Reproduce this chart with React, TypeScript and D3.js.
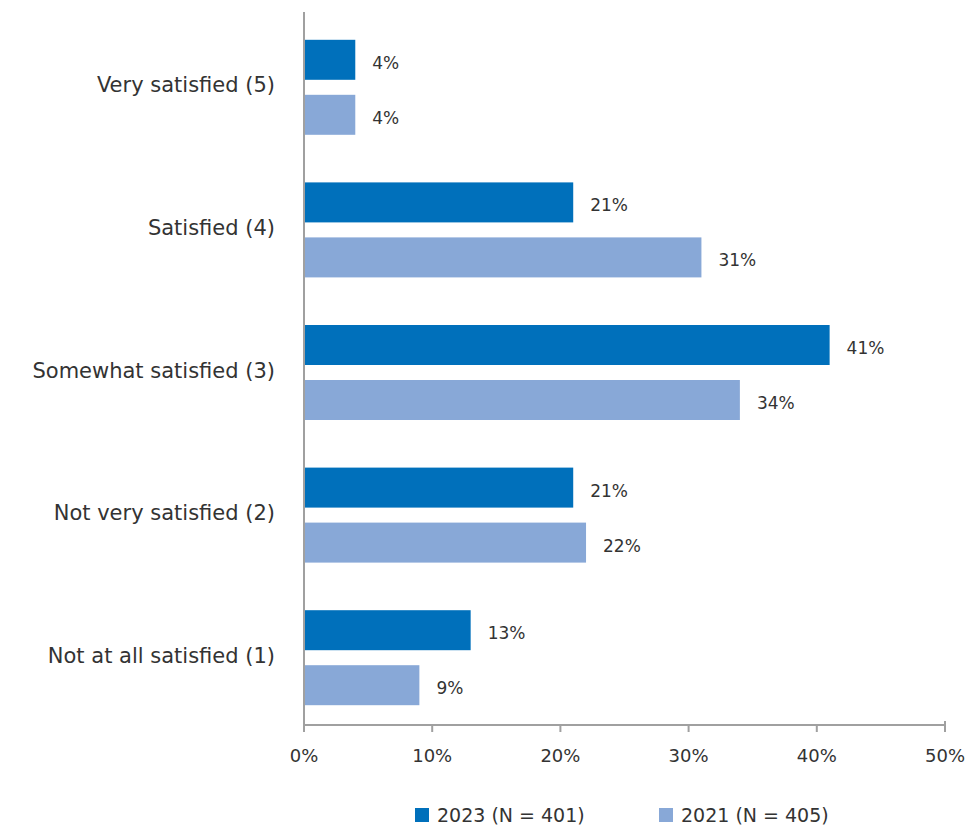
import React from "react";
import * as d3 from "d3";

const categories = [
  "Very satisfied (5)",
  "Satisfied (4)",
  "Somewhat satisfied (3)",
  "Not very satisfied (2)",
  "Not at all satisfied (1)",
];
const values2023 = [4, 21, 41, 21, 13];
const values2021 = [4, 31, 34, 22, 9];
const seriesNames = ["2023 (N = 401)", "2021 (N = 405)"];
const xTicks = [0, 10, 20, 30, 40, 50];

const W = 976;
const H = 830;
const FONT = "'DejaVu Sans', sans-serif";
const C2023 = "#0070BB";
const C2021 = "#88A8D7";
const AXIS = "#A0A0A0";
const TEXT = "#333333";

export default function App() {
  const x = d3.scaleLinear().domain([0, 50]).range([304, 945]);
  const y = d3.scaleBand<string>().domain(categories).range([16, 729]);
  const sub = d3.scaleBand<string>().domain(["2023", "2021"]).range([-47.5, 47.5]).paddingInner(0.2727);
  const axisY = 725;
  const series = [
    { key: "2023", vals: values2023, color: C2023 },
    { key: "2021", vals: values2021, color: C2021 },
  ];
  return (
    <svg width={W} height={H} style={{ position: "absolute", left: 0, top: 0, background: "#fff" }}>
      {series.map((s) =>
        s.vals.map((v, i) => {
          const cy = (y(categories[i]) as number) + y.bandwidth() / 2;
          const top = cy + (sub(s.key) as number);
          return (
            <g key={s.key + i}>
              <rect x={x(0)} y={top} width={x(v) - x(0)} height={sub.bandwidth()} fill={s.color} />
              <text
                x={x(v) + 17}
                y={top + sub.bandwidth() / 2 + 3}
                dominantBaseline="central"
                fontFamily={FONT}
                fontSize={17}
                fill={TEXT}
              >
                {v}%
              </text>
            </g>
          );
        })
      )}
      {categories.map((c) => (
        <text
          key={c}
          x={275}
          y={(y(c) as number) + y.bandwidth() / 2 - 2}
          textAnchor="end"
          dominantBaseline="central"
          fontFamily={FONT}
          fontSize={21}
          fill={TEXT}
        >
          {c}
        </text>
      ))}
      <line x1={x(0)} x2={x(0)} y1={12} y2={axisY} stroke={AXIS} strokeWidth={2} />
      <line x1={x(0)} x2={x(50)} y1={axisY} y2={axisY} stroke={AXIS} strokeWidth={2} />
      {xTicks.map((t) => (
        <g key={t}>
          <line
            x1={x(t)}
            x2={x(t)}
            y1={t === 50 ? axisY - 4 : axisY}
            y2={axisY + 7}
            stroke={AXIS}
            strokeWidth={2}
          />
          <text
            x={x(t)}
            y={755}
            textAnchor="middle"
            dominantBaseline="central"
            fontFamily={FONT}
            fontSize={18}
            fill={TEXT}
          >
            {t}%
          </text>
        </g>
      ))}
      {seriesNames.map((n, i) => (
        <g key={n} transform={`translate(${i === 0 ? 415 : 659},815)`}>
          <rect x={0} y={-7} width={14} height={14} fill={i === 0 ? C2023 : C2021} />
          <text x={22} y={0} dominantBaseline="central" fontFamily={FONT} fontSize={19} fill={TEXT}>
            {n}
          </text>
        </g>
      ))}
    </svg>
  );
}
